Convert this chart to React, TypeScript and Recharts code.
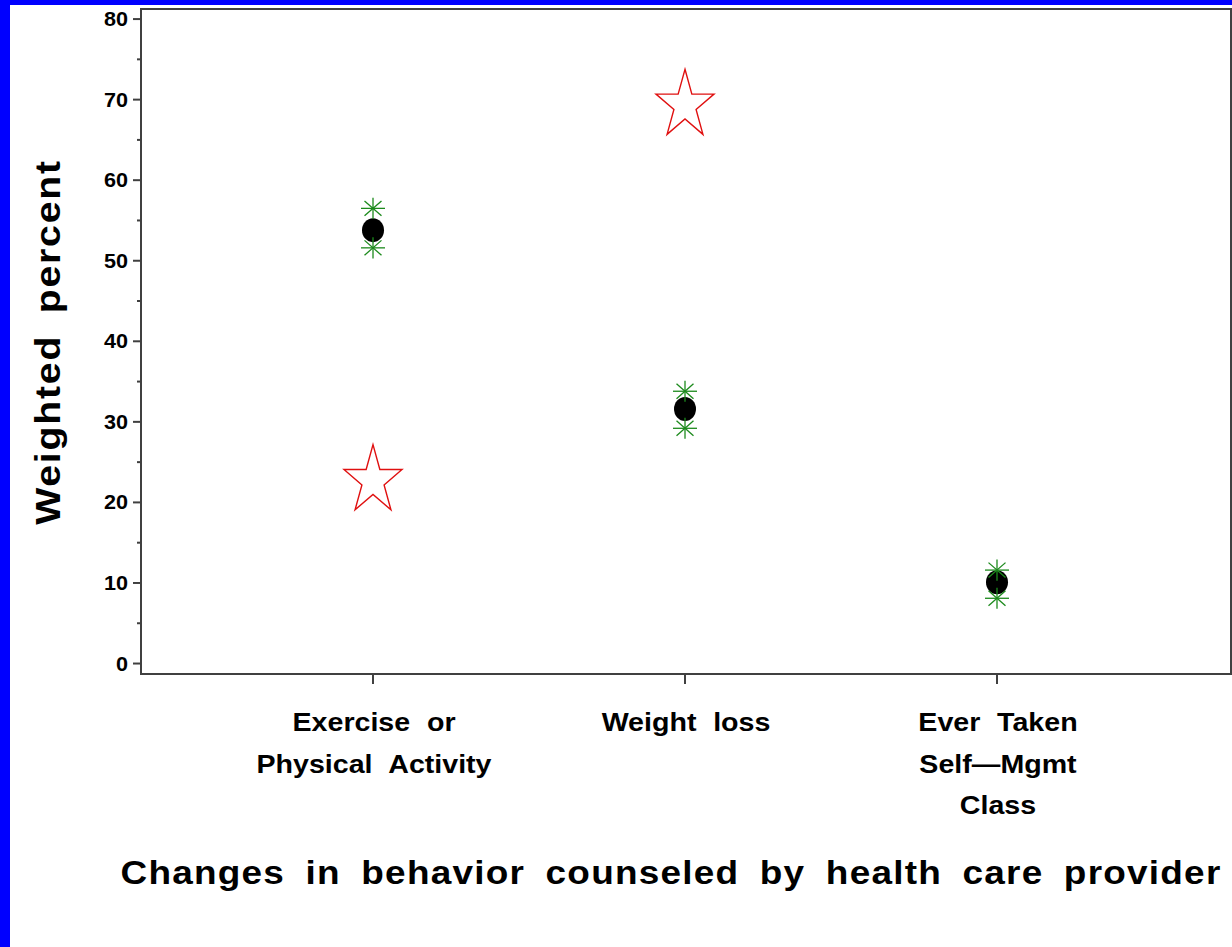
import { ScatterChart, Scatter, XAxis, YAxis, ReferenceArea } from "recharts";

// categories along the x axis (one tick label per line)
const categories = ["Exercise or Physical Activity", "Weight loss", "Ever Taken Self-Mgmt Class"];
const tickLines = [["Exercise or", "Physical Activity"], ["Weight loss"], ["Ever Taken", "Self\u2014Mgmt", "Class"]];

// series values (weighted percent)
const pointEstimate = [53.8, 31.6, 10.1];
const upperLimit = [56.5, 33.8, 11.6];
const lowerLimit = [51.6, 29.2, 8.1];
const starValues: Array<number | null> = [22.7, 69.3, null];

const yTicks = [0, 5, 10, 15, 20, 25, 30, 35, 40, 45, 50, 55, 60, 65, 70, 75, 80];
const xTicks = [1, 2, 3];

const FONT = '"Liberation Sans", Arial, sans-serif';
const AXIS = "#404040";

const toPoints = (vals: Array<number | null>) =>
  vals
    .map((v, i) => (v == null ? null : { x: i + 1, y: v, name: categories[i] }))
    .filter(Boolean) as Array<{ x: number; y: number; name: string }>;

const dotData = toPoints(pointEstimate);
const limitData = [...toPoints(upperLimit), ...toPoints(lowerLimit)];
const starData = toPoints(starValues);

const Dot = (props: any) => <ellipse cx={props.cx} cy={props.cy} rx={11} ry={12} fill="#000" />;

const Asterisk = (props: any) => {
  const { cx, cy } = props;
  const r = 12;
  const lines = [0, 45, 90, 135].map((a) => {
    const rad = (a * Math.PI) / 180;
    const dx = Math.cos(rad) * r;
    const dy = Math.sin(rad) * r * 0.88;
    return (
      <line key={a} x1={cx - dx} y1={cy - dy} x2={cx + dx} y2={cy + dy} stroke="#1c8a1c" strokeWidth={1.3} />
    );
  });
  return <g>{lines}</g>;
};

const Star = (props: any) => {
  const { cx, cy } = props;
  const rx = 30.5;
  const ry = 36;
  const inner = 0.382;
  const pts: string[] = [];
  for (let i = 0; i < 10; i++) {
    const a = -Math.PI / 2 + (i * Math.PI) / 5;
    const k = i % 2 === 0 ? 1 : inner;
    pts.push(`${cx + Math.cos(a) * rx * k},${cy + Math.sin(a) * ry * k}`);
  }
  return <polygon points={pts.join(" ")} fill="none" stroke="#e01010" strokeWidth={1.4} />;
};

const YTick = (props: any) => {
  const { x, y, payload } = props;
  const major = payload.value % 10 === 0;
  return (
    <g>
      <line x1={x - (major ? 8 : 4)} x2={x} y1={y} y2={y} stroke={AXIS} strokeWidth={2} />
      {major && (
        <text
          transform={`translate(${x - 13},${y + 7}) scale(1.08,1)`}
          textAnchor="end"
          fontFamily={FONT}
          fontWeight="bold"
          fontSize={20}
          fill="#000"
        >
          {payload.value}
        </text>
      )}
    </g>
  );
};

const XTick = (props: any) => {
  const { x, y, payload } = props;
  const lines = tickLines[payload.value - 1] || [];
  return (
    <g>
      <line x1={x} x2={x} y1={y} y2={y + 10} stroke={AXIS} strokeWidth={2} />
      {lines.map((t, i) => (
        <text
          key={i}
          transform={`translate(${x + 1},${y + 57 + i * 41.5}) scale(1.1,1)`}
          textAnchor="middle"
          fontFamily={FONT}
          fontWeight="bold"
          fontSize={26}
          style={{ wordSpacing: 8 }}
          fill="#000"
        >
          {t}
        </text>
      ))}
    </g>
  );
};

export default function App() {
  return (
    <div style={{ position: "relative", width: 1232, height: 947, background: "#0000ff", overflow: "hidden" }}>
      <style>{"body{margin:0}"}</style>
      <div style={{ position: "absolute", left: 10, top: 5, width: 1222, height: 942, background: "#fff" }} />
      <div style={{ position: "absolute", left: 0, top: 0 }}>
        <ScatterChart width={1232} height={947} margin={{ top: 9, right: 1, left: 41, bottom: 113 }}>
          <XAxis
            type="number"
            dataKey="x"
            domain={[0.2564, 3.75]}
            ticks={xTicks}
            interval={0}
            allowDataOverflow
            tickSize={0}
            tickMargin={0}
            tickLine={false}
            axisLine={{ stroke: AXIS, strokeWidth: 2 }}
            tick={<XTick />}
            height={160}
            label={{
              content: () => (
                <text
                  transform="translate(671,884) scale(1.12,1)"
                  textAnchor="middle"
                  fontFamily={FONT}
                  fontWeight="bold"
                  fontSize={33}
                  style={{ wordSpacing: 8, letterSpacing: 1.1 }}
                  fill="#000"
                >
                  Changes in behavior counseled by health care provider
                </text>
              ),
            }}
          />
          <YAxis
            type="number"
            dataKey="y"
            domain={[-1.3, 81.25]}
            ticks={yTicks}
            interval={0}
            allowDataOverflow
            tickSize={0}
            tickMargin={0}
            tickLine={false}
            axisLine={{ stroke: AXIS, strokeWidth: 2 }}
            tick={<YTick />}
            width={100}
            label={{
              content: () => (
                <text
                  transform="translate(60,342) rotate(-90) scale(1.12,1)"
                  textAnchor="middle"
                  fontFamily={FONT}
                  fontWeight="bold"
                  fontSize={35}
                  style={{ wordSpacing: 8, letterSpacing: 1.6 }}
                  fill="#000"
                >
                  Weighted percent
                </text>
              ),
            }}
          />
          <ReferenceArea x1={0.2564} x2={3.75} y1={-1.3} y2={81.25} fill="none" stroke={AXIS} strokeWidth={2} />
          <Scatter data={dotData} shape={<Dot />} isAnimationActive={false} />
          <Scatter data={limitData} shape={<Asterisk />} isAnimationActive={false} />
          <Scatter data={starData} shape={<Star />} isAnimationActive={false} />
        </ScatterChart>
      </div>
    </div>
  );
}
